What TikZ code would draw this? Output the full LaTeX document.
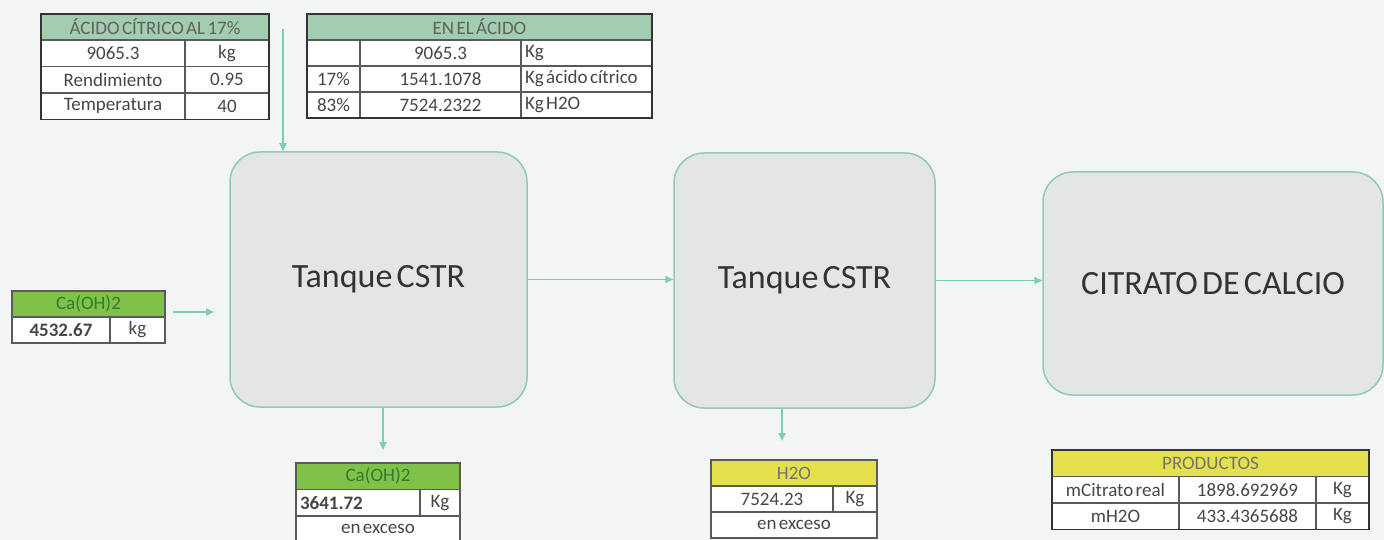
\documentclass[tikz,border=0pt]{standalone}
\usepackage{fontspec}
\setmainfont{Carlito}[WordSpace=0.55]
\usetikzlibrary{arrows.meta}
\definecolor{paper}{HTML}{F3F4F4}
\definecolor{flow}{HTML}{7ECFAF}
\definecolor{tankfill}{HTML}{E4E6E6}
\definecolor{tankline}{HTML}{93C9B2}
\definecolor{hdsea}{HTML}{A2CDB0}
\definecolor{hdlime}{HTML}{80C248}
\definecolor{hdyel}{HTML}{E4E14C}
\definecolor{grid}{HTML}{5A5A5A}
\definecolor{ink}{HTML}{464646}
\tikzset{
  px/.style={x=1pt, y=-1pt},
  tank/.style={draw=tankline, line width=1.5pt, fill=tankfill, rounded corners=30pt,
    inner sep=0pt, text=black!80, font=\fontsize{34}{40}\selectfont},
  cell/.style={draw=grid, line width=1.1pt, fill=white, anchor=north west, inner sep=2pt,
    outer sep=0pt, text=ink, font=\fontsize{19}{22}\selectfont},
  lcell/.style={cell, inner xsep=4pt, align=flush left, text width=#1},  % left aligned text
  hsea/.style={cell, fill=hdsea, text=black!62},            % acid headers
  hlime/.style={cell, fill=hdlime, text=green!35!black!80}, % Ca(OH)2 headers
  hyel/.style={cell, fill=hdyel, text=black!55},            % H2O / products headers
  tabframe/.style={draw=black!80, line width=1.8pt},
  flowarr/.style={flow, line width=1.6pt, -{Triangle[length=8pt, width=7pt]}},
}
\begin{document}
\begin{tikzpicture}[px]
  \useasboundingbox (0,0) rectangle (1384,540);
  \clip (0,0) rectangle (1384,540);
  \fill[paper] (0,0) rectangle (1384,540);

  % acid feed table
  \node[hsea, minimum width=228, minimum height=26] (acH) at (41,14) {ÁCIDO CÍTRICO AL 17\%};
  \node[cell, minimum width=144, minimum height=26.5] (ac1a) at (41,40) {9065.3};
  \node[cell, minimum width=84, minimum height=26.5] (ac1b) at (185,40) {kg};
  \node[cell, minimum width=144, minimum height=26.5] (ac2a) at (41,66.5) {Rendimiento};
  \node[cell, minimum width=84, minimum height=26.5] (ac2b) at (185,66.5) {0.95};
  \node[cell, minimum width=144, minimum height=26.5] (ac3a) at (41,93) {Temperatura};
  \node[cell, minimum width=84, minimum height=26.5] (ac3b) at (185,93) {40};
  \draw[tabframe, line width=1.2pt] (acH.north west) rectangle (ac3b.south east);

  % composition of the acid
  \node[hsea, minimum width=345, minimum height=26] (enH) at (307,14) {EN EL ÁCIDO};
  \node[cell, minimum width=53, minimum height=26] (en1a) at (307,40) {};
  \node[cell, minimum width=161, minimum height=26] (en1b) at (360,40) {9065.3};
  \node[lcell=123pt, minimum height=26] (en1c) at (521,40) {Kg};
  \node[cell, minimum width=53, minimum height=26] (en2a) at (307,66) {17\%};
  \node[cell, minimum width=161, minimum height=26] (en2b) at (360,66) {1541.1078};
  \node[lcell=123pt, minimum height=26] (en2c) at (521,66) {Kg ácido cítrico};
  \node[cell, minimum width=53, minimum height=26] (en3a) at (307,92) {83\%};
  \node[cell, minimum width=161, minimum height=26] (en3b) at (360,92) {7524.2322};
  \node[lcell=123pt, minimum height=26] (en3c) at (521,92) {Kg H2O};
  \draw[tabframe] (enH.north west) rectangle (en3c.south east);

  % lime feed table
  \node[hlime, minimum width=153, minimum height=26] (caH) at (12,291) {Ca(OH)2};
  \node[cell, minimum width=98, minimum height=26, font=\fontsize{19}{22}\selectfont\bfseries] (ca1a) at (12,317) {4532.67};
  \node[cell, minimum width=55, minimum height=26] (ca1b) at (110,317) {kg};

  % reactors and product
  \node[tank, minimum width=297, minimum height=255] (tank1) at (378.5,279.5) {Tanque CSTR};
  \node[tank, minimum width=261, minimum height=255] (tank2) at (804.5,280.5) {Tanque CSTR};
  \node[tank, minimum width=340, minimum height=223] (prod) at (1213,283.5) {CITRATO DE CALCIO};

  % lime excess table
  \node[hlime, minimum width=164, minimum height=26.5] (exH) at (296,463) {Ca(OH)2};
  \node[lcell=116pt, minimum height=26.5, font=\fontsize{19}{22}\selectfont\bfseries] (ex1a) at (296,489.5) {3641.72};
  \node[cell, minimum width=40, minimum height=26.5] (ex1b) at (420,489.5) {Kg};
  \node[cell, minimum width=164, minimum height=26.5] (ex2) at (296,516) {en exceso};

  % water excess table
  \node[hyel, minimum width=166, minimum height=26] (wH) at (711,460) {H2O};
  \node[cell, minimum width=122, minimum height=26] (w1a) at (711,486) {7524.23};
  \node[cell, minimum width=44, minimum height=26] (w1b) at (833,486) {Kg};
  \node[cell, minimum width=166, minimum height=26] (w2) at (711,512) {en exceso};

  % products table
  \node[hyel, minimum width=317, minimum height=26.5] (pH) at (1052,450) {PRODUCTOS};
  \node[cell, minimum width=127, minimum height=26.5] (p1a) at (1052,476.5) {mCitrato real};
  \node[cell, minimum width=137, minimum height=26.5] (p1b) at (1179,476.5) {1898.692969};
  \node[cell, minimum width=53, minimum height=26.5] (p1c) at (1316,476.5) {Kg};
  \node[cell, minimum width=127, minimum height=26.5] (p2a) at (1052,503) {mH2O};
  \node[cell, minimum width=137, minimum height=26.5] (p2b) at (1179,503) {433.4365688};
  \node[cell, minimum width=53, minimum height=26.5] (p2c) at (1316,503) {Kg};
  \draw[tabframe, line width=1.2pt] (pH.north west) rectangle (p2c.south east);

  % flows
  \coordinate (acfeed) at (283,29);
  \coordinate (cafrom) at (173,312);
  \coordinate (cato) at (214,312);
  \coordinate (out1) at (383,450);
  \coordinate (out2) at (782,441);
  \draw[flowarr] (acfeed) -- (acfeed |- tank1.north);
  \draw[flowarr] (cafrom) -- (cato);
  \draw[flowarr] (tank1.east) -- (tank1.east -| tank2.west);
  \draw[flowarr] (tank2.east) -- (tank2.east -| prod.west);
  \draw[flowarr] (out1 |- tank1.south) -- (out1);
  \draw[flowarr] (out2 |- tank2.south) -- (out2);
\end{tikzpicture}
\end{document}
